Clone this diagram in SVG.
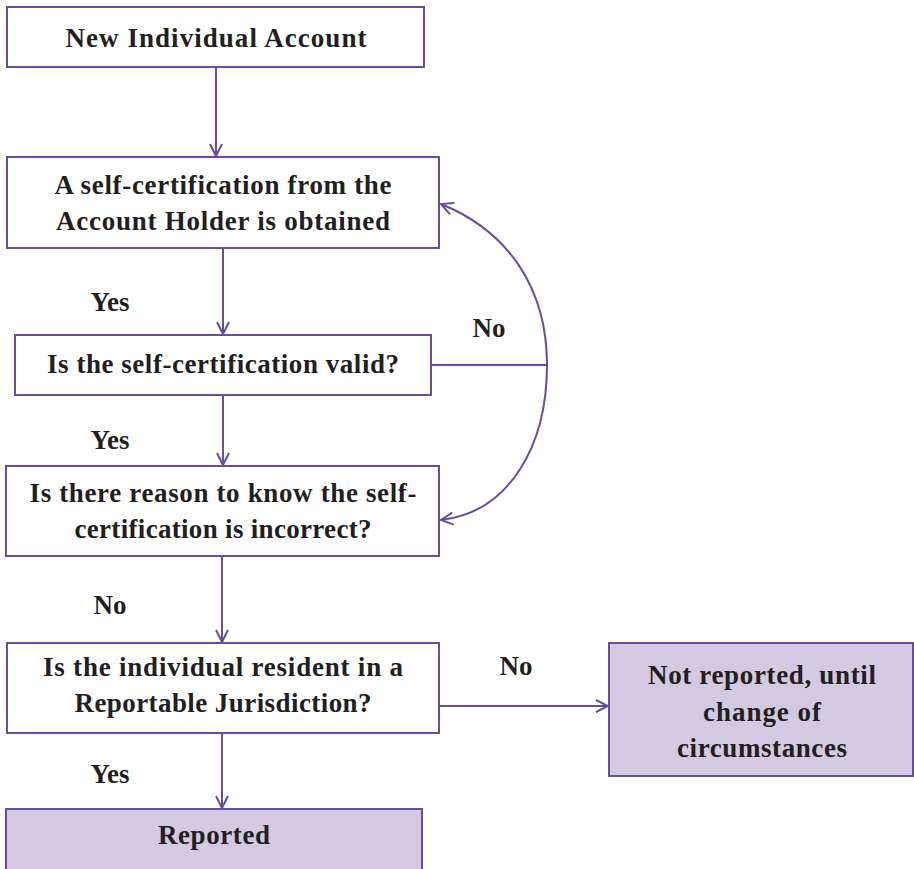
<svg xmlns="http://www.w3.org/2000/svg" width="914" height="869" viewBox="0 0 914 869">
<style>
.box{fill:#ffffff;stroke:#6a4c9c;stroke-width:2}
.shade{fill:#d3cae1;stroke:#6a4c9c;stroke-width:2}
.t{font-family:"Liberation Serif","Times New Roman",serif;font-weight:bold;font-size:27px;fill:#231f20;text-anchor:middle}
.c{fill:none;stroke:#6a4c9c;stroke-width:2}
</style>
<defs>
<marker id="ah" viewBox="0 0 14 14" refX="13" refY="7" markerWidth="14" markerHeight="14" markerUnits="userSpaceOnUse" orient="auto">
<path d="M1,1 L13,7 L1,13" fill="none" stroke="#6a4c9c" stroke-width="2"/>
</marker>
</defs>
<rect width="914" height="869" fill="#ffffff"/>
<g id="connectors">
<line class="c" x1="216" y1="67" x2="216" y2="156" marker-end="url(#ah)"/>
<line class="c" x1="223" y1="248" x2="223" y2="334" marker-end="url(#ah)"/>
<line class="c" x1="223" y1="395" x2="223" y2="465" marker-end="url(#ah)"/>
<line class="c" x1="222" y1="556" x2="222" y2="642" marker-end="url(#ah)"/>
<line class="c" x1="222" y1="733" x2="222" y2="808" marker-end="url(#ah)"/>
<line class="c" x1="439" y1="706" x2="608" y2="706" marker-end="url(#ah)"/>
<line class="c" x1="431" y1="365" x2="547" y2="365"/>
<path class="c" d="M547,365 C547,290 510,232 441,204" marker-end="url(#ah)"/>
<path class="c" d="M547,365 C547,445 510,512 441,520" marker-end="url(#ah)"/>
<text class="t" x="110" y="311">Yes</text>
<text class="t" x="110" y="449">Yes</text>
<text class="t" x="110" y="614">No</text>
<text class="t" x="110" y="783">Yes</text>
<text class="t" x="489" y="337">No</text>
<text class="t" x="516" y="675">No</text>
</g>
<g id="n1">
<rect class="box" x="7" y="7" width="417" height="60"/>
<text class="t" x="216" y="47" textLength="301">New Individual Account</text>
</g>
<g id="n2">
<rect class="box" x="7" y="157" width="432" height="91"/>
<text class="t" x="223" y="194" textLength="337">A self-certification from the</text>
<text class="t" x="223" y="230" textLength="334">Account Holder is obtained</text>
</g>
<g id="n3">
<rect class="box" x="15" y="335" width="416" height="60"/>
<text class="t" x="223" y="373" textLength="352">Is the self-certification valid?</text>
</g>
<g id="n4">
<rect class="box" x="6" y="466" width="433" height="90"/>
<text class="t" x="223" y="502" textLength="387">Is there reason to know the self-</text>
<text class="t" x="223" y="538" textLength="297">certification is incorrect?</text>
</g>
<g id="n5">
<rect class="box" x="7" y="643" width="432" height="90"/>
<text class="t" x="223" y="676" textLength="360">Is the individual resident in a</text>
<text class="t" x="223" y="712" textLength="297">Reportable Jurisdiction?</text>
</g>
<g id="n6">
<rect class="shade" x="6" y="809" width="416" height="70"/>
<text class="t" x="214" y="844" textLength="112">Reported</text>
</g>
<g id="n7">
<rect class="shade" x="609" y="643" width="304" height="133"/>
<text class="t" x="762" y="684" textLength="228">Not reported, until</text>
<text class="t" x="762" y="721" textLength="118">change of</text>
<text class="t" x="762" y="757" textLength="170">circumstances</text>
</g>
</svg>
